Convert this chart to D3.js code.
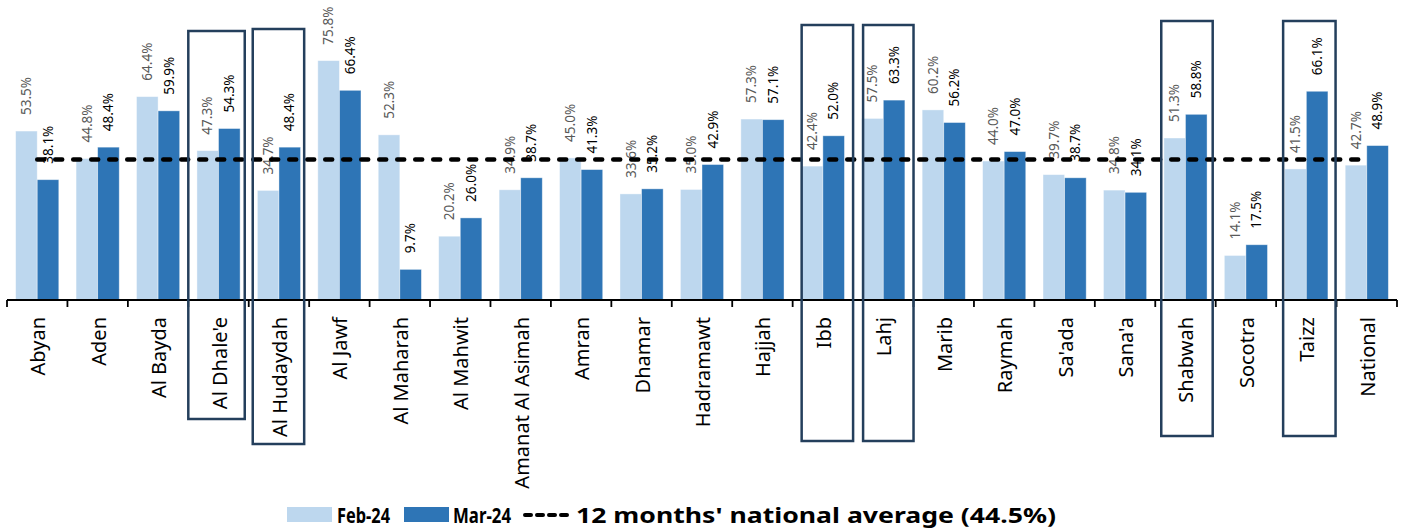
<!DOCTYPE html>
<html>
<head>
<meta charset="utf-8">
<script src="https://cdn.jsdelivr.net/npm/d3@7"></script>
<style>
  html, body { margin: 0; padding: 0; background: #fff; }
  svg { display: block; }
</style>
</head>
<body>
<svg id="chart" width="1407" height="531"></svg>
<script>
// ---- data ----
const categories = ['Abyan', 'Aden', 'Al Bayda', "Al Dhale'e", 'Al Hudaydah', 'Al Jawf', 'Al Maharah',
  'Al Mahwit', 'Amanat Al Asimah', 'Amran', 'Dhamar', 'Hadramawt', 'Hajjah', 'Ibb', 'Lahj', 'Marib',
  'Raymah', "Sa'ada", "Sana'a", 'Shabwah', 'Socotra', 'Taizz', 'National'];
const feb24 = [53.5, 44.8, 64.4, 47.3, 34.7, 75.8, 52.3, 20.2, 34.9, 45.0, 33.6, 35.0, 57.3, 42.4,
  57.5, 60.2, 44.0, 39.7, 34.8, 51.3, 14.1, 41.5, 42.7];
const mar24 = [38.1, 48.4, 59.9, 54.3, 48.4, 66.4, 9.7, 26.0, 38.7, 41.3, 35.2, 42.9, 57.1, 52.0,
  63.3, 56.2, 47.0, 38.7, 34.1, 58.8, 17.5, 66.1, 48.9];
const nationalAvg = 44.5;
const seriesNames = ['Feb-24', 'Mar-24'];
const avgLabel = "12 months' national average (44.5%)";
const highlighted = ["Al Dhale'e", 'Al Hudaydah', 'Ibb', 'Lahj', 'Shabwah', 'Taizz'];

// ---- layout ----
const BASE_Y = 300;
const AXIS_X0 = 7, AXIS_X1 = 1397;
const COLORS = { 'Feb-24': '#BDD7EE', 'Mar-24': '#2E75B6' };
const LABEL_COLORS = { 'Feb-24': '#595959', 'Mar-24': '#000000' };
const BOX_COLOR = '#243F5C';
const FONT = "'Noto Sans', 'DejaVu Sans', sans-serif";
// hand-drawn highlight boxes: offsets from band edges, top/bottom in px
const boxLayout = {
  "Al Dhale'e": { l: 0, r: -4, top: 31, bottom: 419 },
  'Al Hudaydah': { l: 4, r: -5, top: 29, bottom: 444 },
  'Ibb': { l: 9, r: 0, top: 25, bottom: 441 },
  'Lahj': { l: 10, r: 0, top: 25, bottom: 441 },
  'Shabwah': { l: 6, r: -3, top: 21, bottom: 436 },
  'Taizz': { l: 7, r: -1, top: 21, bottom: 436 },
};

const svg = d3.select('#chart');

const x = d3.scaleBand().domain(categories).range([AXIS_X0, AXIS_X1]).paddingInner(0).paddingOuter(0);
const xSub = d3.scaleBand().domain(seriesNames).range([0, x.bandwidth()]).paddingInner(0).paddingOuter(0.4);
const y = d3.scaleLinear().domain([0, 95]).range([BASE_Y, 0]);

const rows = categories.map((c, i) => ({ cat: c, 'Feb-24': feb24[i], 'Mar-24': mar24[i] }));

// Bars
const groups = svg.append('g')
  .selectAll('g')
  .data(rows)
  .join('g')
  .attr('transform', d => `translate(${x(d.cat)},0)`);

groups.selectAll('rect')
  .data(d => seriesNames.map(s => ({ s, v: d[s] })))
  .join('rect')
  .attr('x', d => xSub(d.s))
  .attr('y', d => y(d.v))
  .attr('width', xSub.bandwidth())
  .attr('height', d => y(0) - y(d.v))
  .attr('fill', d => COLORS[d.s])
  .attr('stroke', 'rgba(255,255,255,0.5)')
  .attr('stroke-width', 0.8);

// Value labels (rotated)
groups.selectAll('text')
  .data(d => seriesNames.map(s => ({ s, v: d[s] })))
  .join('text')
  .attr('transform', d => `translate(${xSub(d.s) + xSub.bandwidth() / 2},${y(d.v) - 16}) rotate(-90)`)
  .attr('dy', '0.35em')
  .attr('text-anchor', 'start')
  .attr('font-family', FONT)
  .attr('font-size', '13.5px')
  .attr('fill', d => LABEL_COLORS[d.s])
  .text(d => d.v.toFixed(1) + '%');

// X axis
const axis = svg.append('g').attr('transform', `translate(0,${BASE_Y})`);
axis.append('line')
  .attr('x1', AXIS_X0).attr('x2', AXIS_X1)
  .attr('stroke', '#000').attr('stroke-width', 1.8);
axis.selectAll('line.tick')
  .data(d3.range(categories.length + 1))
  .join('line')
  .attr('class', 'tick')
  .attr('x1', i => AXIS_X0 + i * x.step())
  .attr('x2', i => AXIS_X0 + i * x.step())
  .attr('y1', 0).attr('y2', 7)
  .attr('stroke', '#000').attr('stroke-width', 1.8);

axis.selectAll('text')
  .data(categories)
  .join('text')
  .attr('transform', d => `translate(${x(d) + x.bandwidth() / 2 + 1},17) rotate(-90)`)
  .attr('dy', '0.35em')
  .attr('text-anchor', 'end')
  .attr('font-family', FONT)
  .attr('font-size', '20px')
  .attr('fill', '#000')
  .text(d => d);

// National average dashed line
svg.append('line')
  .attr('x1', x(categories[0]) + x.bandwidth() / 2)
  .attr('x2', x(categories[categories.length - 1]) + x.bandwidth() / 2)
  .attr('y1', y(nationalAvg)).attr('y2', y(nationalAvg))
  .attr('stroke', '#000')
  .attr('stroke-width', 4.5)
  .attr('stroke-linecap', 'round')
  .attr('stroke-dasharray', '7,11');

// Highlight boxes
svg.append('g')
  .selectAll('rect')
  .data(highlighted)
  .join('rect')
  .attr('x', d => x(d) + boxLayout[d].l)
  .attr('y', d => boxLayout[d].top)
  .attr('width', d => x.bandwidth() - boxLayout[d].l + boxLayout[d].r)
  .attr('height', d => boxLayout[d].bottom - boxLayout[d].top)
  .attr('fill', 'none')
  .attr('stroke', BOX_COLOR)
  .attr('stroke-width', 2.5);

// Legend
const legend = svg.append('g').attr('font-family', FONT).attr('font-weight', 'bold').attr('font-size', '22px');
const legendItems = [
  { key: 'Feb-24', x: 287, tx: 337, tw: 53 },
  { key: 'Mar-24', x: 404, tx: 453, tw: 58 },
];
legendItems.forEach(it => {
  legend.append('rect')
    .attr('x', it.x).attr('y', 507).attr('width', 45).attr('height', 15)
    .attr('fill', COLORS[it.key]);
  legend.append('text')
    .attr('x', it.tx).attr('y', 523)
    .attr('textLength', it.tw).attr('lengthAdjust', 'spacingAndGlyphs')
    .text(it.key);
});
legend.append('line')
  .attr('x1', 525).attr('x2', 568).attr('y1', 515).attr('y2', 515)
  .attr('stroke', '#000').attr('stroke-width', 4)
  .attr('stroke-linecap', 'round').attr('stroke-dasharray', '6,6');
legend.append('text')
  .attr('x', 576).attr('y', 523)
  .attr('textLength', 480).attr('lengthAdjust', 'spacingAndGlyphs')
  .text(avgLabel);
</script>
</body>
</html>
